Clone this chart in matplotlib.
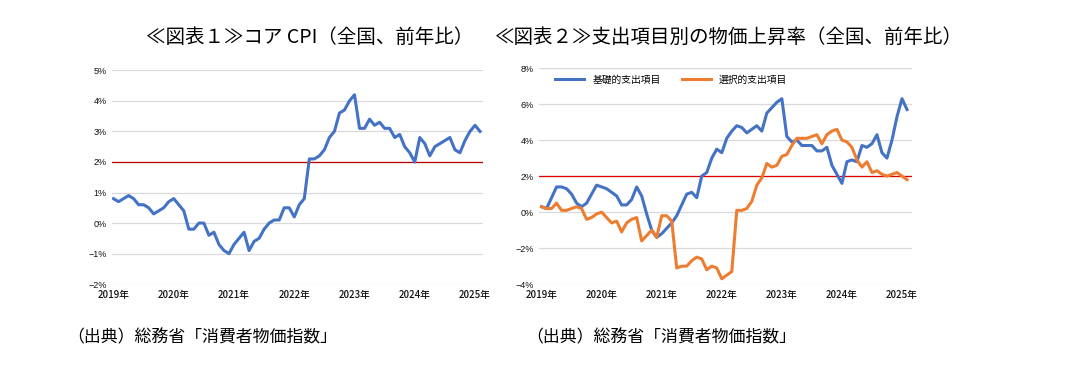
import numpy as np
import matplotlib
matplotlib.use("Agg")
import matplotlib.pyplot as plt

plt.rcParams['font.family'] = ['Noto Sans CJK JP', 'DejaVu Sans']

# 月次データ 2019年1月〜2025年2月
core_cpi = [0.8, 0.7, 0.8, 0.9, 0.8, 0.6, 0.6, 0.5, 0.3, 0.4, 0.5, 0.7,
            0.8, 0.6, 0.4, -0.2, -0.2, 0.0, 0.0, -0.4, -0.3, -0.7, -0.9, -1.0,
            -0.7, -0.5, -0.3, -0.9, -0.6, -0.5, -0.2, 0.0, 0.1, 0.1, 0.5, 0.5,
            0.2, 0.6, 0.8, 2.1, 2.1, 2.2, 2.4, 2.8, 3.0, 3.6, 3.7, 4.0,
            4.2, 3.1, 3.1, 3.4, 3.2, 3.3, 3.1, 3.1, 2.8, 2.9, 2.5, 2.3,
            2.0, 2.8, 2.6, 2.2, 2.5, 2.6, 2.7, 2.8, 2.4, 2.3, 2.7, 3.0,
            3.2, 3.0]

basic = [0.3, 0.2, 0.8, 1.4, 1.4, 1.3, 1.0, 0.5, 0.3, 0.5, 1.0, 1.5,
         1.4, 1.3, 1.1, 0.9, 0.4, 0.4, 0.7, 1.4, 0.9, -0.1, -1.0, -1.4,
         -1.2, -0.9, -0.6, -0.2, 0.4, 1.0, 1.1, 0.8, 2.0, 2.2, 3.0, 3.5,
         3.3, 4.1, 4.5, 4.8, 4.7, 4.4, 4.6, 4.8, 4.5, 5.5, 5.8, 6.1,
         6.3, 4.2, 3.9, 4.0, 3.7, 3.7, 3.7, 3.4, 3.4, 3.6, 2.6, 2.1,
         1.6, 2.8, 2.9, 2.8, 3.7, 3.6, 3.8, 4.3, 3.3, 3.0, 4.0, 5.3,
         6.3, 5.7]

selective = [0.3, 0.2, 0.2, 0.5, 0.1, 0.1, 0.2, 0.3, 0.2, -0.4, -0.3, -0.1,
             0.0, -0.3, -0.6, -0.5, -1.1, -0.6, -0.4, -0.3, -1.6, -1.3, -1.0, -1.4,
             -0.2, -0.2, -0.5, -3.1, -3.0, -3.0, -2.7, -2.5, -2.6, -3.2, -3.0, -3.1,
             -3.7, -3.5, -3.3, 0.1, 0.1, 0.2, 0.6, 1.5, 1.9, 2.7, 2.5, 2.6,
             3.1, 3.2, 3.7, 4.1, 4.1, 4.1, 4.2, 4.3, 3.8, 4.3, 4.5, 4.6,
             4.0, 3.9, 3.6, 2.9, 2.5, 2.8, 2.2, 2.3, 2.1, 2.0, 2.1, 2.2,
             2.0, 1.8]

years = ['2019年', '2020年', '2021年', '2022年', '2023年', '2024年', '2025年']
target = 2.0

title1 = '≪図表１≫コア CPI（全国、前年比）'
title2 = '≪図表２≫支出項目別の物価上昇率（全国、前年比）'
source = '（出典）総務省「消費者物価指数」'

blue = '#4472C4'
orange = '#ED7D31'


def style_axes(ax, yticks):
    for s in ax.spines.values():
        s.set_visible(False)
    ax.set_yticks(yticks)
    ax.set_yticklabels([f'{int(v)}%' if v >= 0 else f'−{int(-v)}%' for v in yticks],
                       fontsize=6.5, family=['Liberation Sans', 'DejaVu Sans'])
    ax.set_xticks(np.arange(0, 73, 12))
    ax.set_xticklabels(years, fontsize=7, fontweight='medium')
    ax.tick_params(length=0, pad=4, labelcolor='#111111')
    ax.grid(axis='y', color='#d9d9d9', lw=0.9)
    ax.set_axisbelow(True)
    ax.set_ylim(yticks[0], yticks[-1])


fig = plt.figure(figsize=(10.77, 3.70), dpi=100)

x = np.arange(len(core_cpi))
ax1 = fig.add_axes([0.104, 0.232, 0.3445, 0.578])
ax1.axhline(target, color='#C00000', lw=0.9, zorder=2)
ax1.plot(x, core_cpi, color=blue, lw=2.2, zorder=3)
style_axes(ax1, np.arange(-2, 6, 1))
ax1.set_xlim(-0.3, 73.6)

x2 = np.arange(len(basic))
ax2 = fig.add_axes([0.5005, 0.232, 0.3463, 0.584])
ax2.axhline(target, color='#E00000', lw=0.9, zorder=2)
ax2.plot(x2, basic, color=blue, lw=2.2, zorder=3, label='基礎的支出項目')
ax2.plot(x2, selective, color=orange, lw=2.2, zorder=3, label='選択的支出項目')
style_axes(ax2, np.arange(-4, 10, 2))
ax2.set_xlim(-0.5, 74)
ax2.legend(loc='upper left', bbox_to_anchor=(0.02, 1.01), ncol=2, frameon=False,
           fontsize=7, handlelength=3.0, columnspacing=2.2)

fig.text(0.288, 0.90, title1, fontsize=14, ha='center', va='center')
fig.text(0.677, 0.90, title2, fontsize=14, ha='center', va='center')
fig.text(0.062, 0.087, source, fontsize=12.2, ha='left', va='center')
fig.text(0.489, 0.087, source, fontsize=12.2, ha='left', va='center')

fig.savefig('out.png', dpi=100)
